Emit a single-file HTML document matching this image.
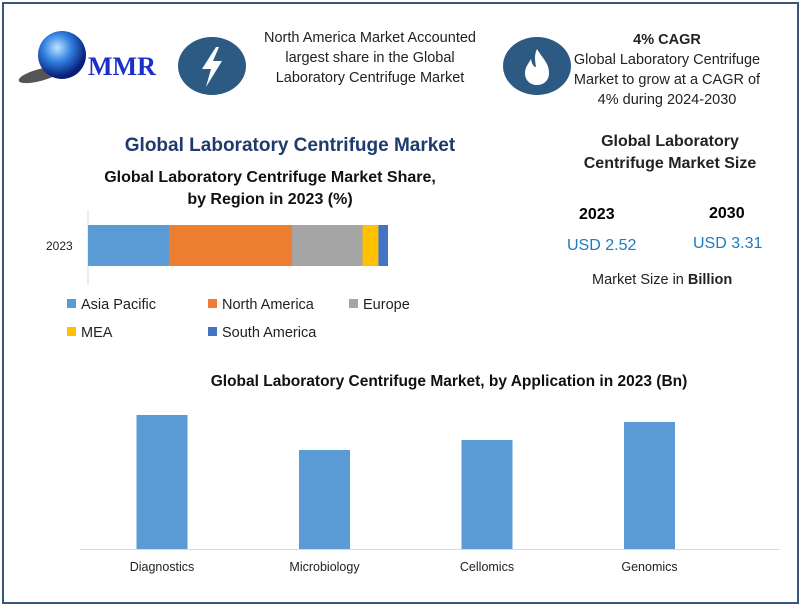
<!DOCTYPE html>
<html><head><meta charset="utf-8"><style>
body{margin:0;width:800px;height:607px;background:#fff;font-family:"Liberation Sans",sans-serif;overflow:hidden;position:relative}
.abs{position:absolute}
.frame{left:2px;top:2px;width:793px;height:598px;border:2px solid #3a5578}
.c{text-align:center}
</style></head><body>
<div class="abs frame"></div>

<svg class="abs" style="left:10px;top:20px" width="160" height="70">
<defs><radialGradient id="g" cx="40%" cy="35%" r="60%"><stop offset="0" stop-color="#bfe3ff"/><stop offset="0.5" stop-color="#2f7fe0"/><stop offset="1" stop-color="#0a1f7a"/></radialGradient></defs>
<ellipse cx="30" cy="55" rx="22" ry="6" fill="#555" transform="rotate(-15 30 55)"/>
<circle cx="52" cy="35" r="24" fill="url(#g)"/>
<text x="78" y="55" font-family="Liberation Serif" font-weight="bold" font-size="26" fill="#1a2fcc">MMR</text>
</svg>

<div class="abs" style="left:178px;top:37px;width:68px;height:58px;border-radius:50%;background:#2d5a82">
<svg width="68" height="58"><polygon points="38,10 24,32 33,32 28,50 44,24 35,24 41,10" fill="#fff"/></svg></div>
<div class="abs c" style="left:250px;top:28px;width:240px;font-size:14.5px;line-height:20px;color:#222">North America Market Accounted largest share in the Global Laboratory Centrifuge Market</div>

<div class="abs" style="left:503px;top:37px;width:68px;height:58px;border-radius:50%;background:#2d5a82">
<svg width="68" height="58"><path d="M34 12 C40 22 46 26 46 36 C46 44 40 48 34 48 C28 48 22 44 22 36 C22 30 26 26 28 22 C29 28 31 30 33 30 C32 24 31 18 34 12 Z" fill="#fff"/></svg></div>
<div class="abs c" style="left:567px;top:30px;width:200px;font-size:14.5px;line-height:20px;color:#222"><b>4% CAGR</b><br>Global Laboratory Centrifuge Market to grow at a CAGR of 4% during 2024-2030</div>

<div class="abs c" style="left:90px;top:135px;width:400px;font-size:19px;font-weight:bold;color:#1f3b6e">Global Laboratory Centrifuge Market</div>
<div class="abs c" style="left:70px;top:167px;width:400px;font-size:16px;font-weight:bold;line-height:22px;color:#111">Global Laboratory Centrifuge Market Share,<br>by Region in 2023 (%)</div>

<div class="abs c" style="left:560px;top:131px;width:220px;font-size:16px;font-weight:bold;line-height:22px;color:#222">Global Laboratory<br>Centrifuge Market Size</div>
<div class="abs" style="left:579px;top:206px;font-size:16px;font-weight:bold">2023</div>
<div class="abs" style="left:709px;top:205px;font-size:16px;font-weight:bold">2030</div>
<div class="abs" style="left:567px;top:237px;font-size:16px;color:#1b7cc0">USD 2.52</div>
<div class="abs" style="left:693px;top:235px;font-size:16px;color:#1b7cc0">USD 3.31</div>
<div class="abs" style="left:592px;top:272px;font-size:14.5px;color:#222">Market Size in <b>Billion</b></div>

<svg class="abs" style="left:0;top:0" width="800" height="607" id="charts"></svg>

<script>
const regions=["Asia Pacific","North America","Europe","MEA","South America"];
const shares=[27,41,23.5,5.3,3.2];
const regionColors=["#5b9bd5","#ed7d31","#a5a5a5","#ffc000","#4472c4"];
const apps=["Diagnostics","Microbiology","Cellomics","Genomics"];
const appValues=[1.34,0.99,1.09,1.27];
const NS="http://www.w3.org/2000/svg";
const svg=document.getElementById('charts');
function mk(t,a,p){const e=document.createElementNS(NS,t);for(const k in a)e.setAttribute(k,a[k]);(p||svg).appendChild(e);return e;}
// stacked bar
const x0=88,pxPer=3;const xs=v=>v*pxPer;
let ax=mk('line',{x1:x0,y1:210,x2:x0,y2:285,stroke:'#d9d9d9'});

let yl=mk('text',{x:46,y:250,'font-size':12,fill:'#222'});yl.textContent='2023';

let acc=0;
shares.forEach((v,i)=>{
 const r=mk('rect',{x:x0+xs(acc),y:225,width:xs(v),height:41,fill:regionColors[i]});
 
 
 acc+=v;
});
const legPos=[[67,308],[208,308],[349,308],[67,336],[208,336]];
regions.forEach((n,i)=>{
 const g=mk('g',{});
 
 
 mk('rect',{x:legPos[i][0],y:legPos[i][1]-9,width:9,height:9,fill:regionColors[i]},g);
 const t=mk('text',{x:legPos[i][0]+14,y:legPos[i][1]+1,'font-size':14.5,fill:'#222'},g);t.textContent=n;
});
// app chart
const tt=mk('text',{x:449,y:386,'text-anchor':'middle','font-size':15.5,'font-weight':'bold',fill:'#111'});
tt.textContent='Global Laboratory Centrifuge Market, by Application in 2023 (Bn)';

const base=549,scale=100,left=80,band=163,bw=51;
const ys=v=>base-v*scale;
const bl=mk('line',{x1:80,y1:base+0.5,x2:780,y2:base+0.5,stroke:'#d9d9d9'});

apps.forEach((a,i)=>{
 const cx=left+band*(i+0.5)-81+162*0+81;
 const c=162+162.5*i;
 const r=mk('rect',{x:c-bw/2,y:ys(appValues[i]),width:bw,height:base-ys(appValues[i]),fill:'#5b9bd5'});
 
 
 const t=mk('text',{x:c,y:571,'text-anchor':'middle','font-size':12.5,fill:'#222'});t.textContent=a;
 
 
});
</script>
</body></html>
